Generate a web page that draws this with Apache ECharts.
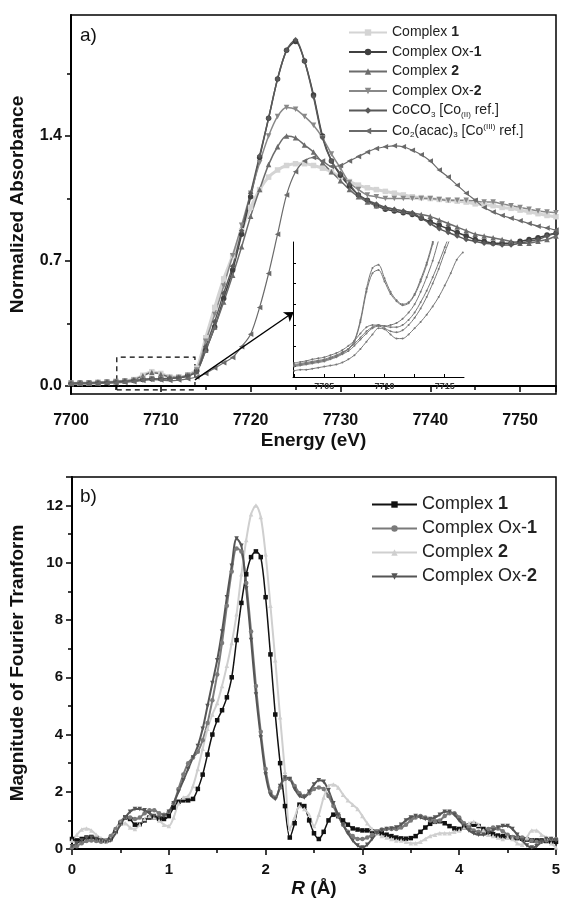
<!DOCTYPE html>
<html>
<head>
<meta charset="utf-8">
<script src="https://cdn.jsdelivr.net/npm/echarts@6/dist/echarts.min.js"></script>
<style>
  html, body { margin: 0; padding: 0; background: #fff; }
  #chart { width: 564px; height: 908px; }
</style>
</head>
<body>
<div id="chart"></div>
<script>
// ---- panel a) XANES ----
const energy = [7700,7701,7702,7703,7704,7705,7706,7707,7708,7709,7710,7711,7712,7713,7714,
  7715,7716,7717,7718,7719,7720,7721,7722,7723,7724,7725,7726,7727,7728,7729,7730,7731,7732,7733,7734,
  7735,7736,7737,7738,7739,7740,7741,7742,7743,7744,7745,7746,7747,7748,7749,7750,7751,7752,7753,7754]

const complex1Xanes = [0.015,0.016,0.017,0.019,0.021,0.024,0.028,0.036,0.06,0.08,0.07,0.052,0.05,0.06,0.1,
  0.27,0.44,0.6,0.73,0.87,1.0,1.1,1.17,1.21,1.235,1.245,1.245,1.235,1.22,1.2,1.17,1.145,1.125,1.11,1.1,
  1.09,1.08,1.07,1.06,1.055,1.05,1.045,1.04,1.035,1.03,1.02,1.015,1.01,1.0,0.995,0.985,0.975,0.965,0.955,0.948]
const oxComplex1Xanes = [0.015,0.016,0.017,0.019,0.021,0.024,0.027,0.031,0.036,0.04,0.04,0.042,0.047,0.058,0.085,
  0.2,0.33,0.49,0.65,0.85,1.06,1.28,1.5,1.72,1.88,1.93,1.82,1.63,1.4,1.26,1.18,1.12,1.07,1.04,1.01,
  0.99,0.98,0.97,0.96,0.94,0.92,0.9,0.88,0.86,0.84,0.82,0.81,0.8,0.8,0.8,0.81,0.82,0.83,0.845,0.855]
const complex2Xanes = [0.015,0.016,0.017,0.019,0.021,0.024,0.028,0.035,0.057,0.075,0.066,0.05,0.048,0.058,0.08,
  0.2,0.33,0.47,0.62,0.78,0.95,1.1,1.24,1.34,1.4,1.39,1.35,1.31,1.25,1.2,1.15,1.1,1.06,1.03,1.01,
  1.0,0.99,0.98,0.97,0.96,0.95,0.93,0.91,0.89,0.87,0.85,0.84,0.83,0.82,0.81,0.8,0.8,0.81,0.82,0.84]
const oxComplex2Xanes = [0.016,0.017,0.018,0.02,0.022,0.025,0.028,0.032,0.037,0.041,0.041,0.043,0.048,0.06,0.09,
  0.25,0.4,0.56,0.73,0.9,1.08,1.25,1.4,1.51,1.56,1.55,1.51,1.46,1.39,1.3,1.22,1.14,1.1,1.07,1.06,
  1.05,1.05,1.05,1.05,1.05,1.05,1.045,1.04,1.04,1.04,1.035,1.03,1.03,1.02,1.01,1.0,0.99,0.98,0.975,0.97]
const coco3Xanes = [0.014,0.015,0.016,0.018,0.02,0.023,0.026,0.03,0.035,0.039,0.04,0.042,0.046,0.056,0.08,
  0.22,0.36,0.52,0.67,0.87,1.08,1.29,1.5,1.72,1.88,1.94,1.82,1.62,1.39,1.26,1.19,1.13,1.07,1.04,1.02,
  1.0,0.99,0.98,0.97,0.94,0.91,0.88,0.86,0.84,0.82,0.81,0.8,0.795,0.79,0.79,0.8,0.81,0.82,0.84,0.855]
const acacXanes = [0.01,0.011,0.012,0.013,0.015,0.017,0.02,0.024,0.03,0.036,0.033,0.03,0.033,0.04,0.05,
  0.07,0.1,0.13,0.16,0.22,0.29,0.44,0.63,0.85,1.07,1.2,1.26,1.28,1.26,1.23,1.235,1.26,1.285,1.31,1.33,
  1.34,1.345,1.34,1.32,1.295,1.26,1.21,1.17,1.125,1.08,1.04,1.0,0.975,0.955,0.94,0.925,0.91,0.895,0.885,0.873]

// inset: pre-edge zoom
const insetEnergy = [7702.5,7703,7703.5,7704,7704.5,7705,7705.5,7706,7706.5,7707,7707.5,7708,7708.5,7709,7709.5,
  7710,7710.5,7711,7711.5,7712,7712.5,7713,7713.5,7714,7714.5,7715,7715.5,7716,7716.5]
const insetComplex1 = [0.011,0.012,0.013,0.014,0.015,0.016,0.018,0.02,0.023,0.027,0.035,0.055,0.085,0.105,0.108,
  0.095,0.082,0.074,0.07,0.072,0.08,0.094,0.11,0.13,0.15,0.17,0.19,0.21,0.23]
const insetComplex2 = [0.011,0.012,0.013,0.014,0.015,0.016,0.018,0.02,0.023,0.027,0.034,0.053,0.082,0.1,0.103,
  0.092,0.08,0.073,0.069,0.071,0.079,0.092,0.108,0.128,0.15,0.17,0.19,0.21,0.23]
const insetOx1 = [0.0135,0.0145,0.0155,0.017,0.018,0.019,0.021,0.023,0.026,0.03,0.035,0.042,0.048,0.05,0.05,
  0.049,0.05,0.052,0.056,0.062,0.07,0.082,0.096,0.112,0.132,0.15,0.17,0.19,0.21]
const insetOx2 = [0.012,0.013,0.014,0.015,0.016,0.017,0.019,0.021,0.024,0.027,0.032,0.038,0.044,0.048,0.05,
  0.049,0.048,0.048,0.05,0.055,0.062,0.072,0.083,0.096,0.11,0.125,0.14,0.16,0.18]
const insetCoco3 = [0.01,0.011,0.012,0.013,0.014,0.015,0.017,0.019,0.022,0.025,0.03,0.036,0.042,0.047,0.049,
  0.047,0.044,0.043,0.045,0.05,0.057,0.066,0.077,0.09,0.104,0.12,0.135,0.15,0.17]
const insetAcac = [0.006,0.007,0.007,0.008,0.009,0.01,0.011,0.012,0.014,0.017,0.021,0.027,0.034,0.041,0.047,
  0.046,0.041,0.037,0.037,0.041,0.047,0.053,0.06,0.068,0.077,0.088,0.1,0.113,0.12]

const xanesYLabels = [0, 0.7, 1.4]
const xanesYMinor = [0.35, 1.05, 1.75]
const insetXLabels = [7705, 7710, 7715]
const insetXTicks = [7702.5, 7705, 7707.5, 7710, 7712.5, 7715]
const insetYTicks = [0.01, 0.03, 0.05, 0.07, 0.09, 0.11]
const zoomBox = [[7705.1, -0.022], [7713.8, 0.161]]
const zoomArrow = [[7713.8, 0.034], [7724.8, 0.414]]

// ---- panel b) Fourier transform ----
const rDist = [0,0.05,0.1,0.15,0.2,0.25,0.3,0.35,0.4,0.45,0.5,0.55,0.6,0.65,0.7,0.75,0.8,0.85,0.9,0.95,
  1,1.05,1.1,1.15,1.2,1.25,1.3,1.35,1.4,1.45,1.5,1.55,1.6,1.65,1.7,1.75,1.8,1.85,1.9,1.95,
  2,2.05,2.1,2.15,2.2,2.25,2.3,2.35,2.4,2.45,2.5,2.55,2.6,2.65,2.7,2.75,2.8,2.85,2.9,2.95,
  3,3.05,3.1,3.15,3.2,3.25,3.3,3.35,3.4,3.45,3.5,3.55,3.6,3.65,3.7,3.75,3.8,3.85,3.9,3.95,
  4,4.05,4.1,4.15,4.2,4.25,4.3,4.35,4.4,4.45,4.5,4.55,4.6,4.65,4.7,4.75,4.8,4.85,4.9,4.95,5]
const complex1Ft = [0.35,0.3,0.35,0.4,0.42,0.38,0.3,0.28,0.35,0.6,0.9,1.1,1.05,0.85,0.85,1.0,1.1,1.1,1.05,1.05,
  1.15,1.45,1.65,1.7,1.7,1.75,2.1,2.6,3.3,4.0,4.5,4.85,5.3,6.0,7.3,8.6,9.6,10.2,10.4,10.2,
  8.8,6.8,4.7,3.0,1.5,0.4,0.9,1.55,1.5,1.0,0.55,0.35,0.6,1.0,1.2,1.15,1.0,0.85,0.72,0.68,
  0.65,0.65,0.62,0.6,0.55,0.5,0.45,0.4,0.37,0.36,0.38,0.45,0.6,0.75,0.88,0.95,0.97,0.9,0.8,0.72,
  0.7,0.75,0.82,0.85,0.8,0.7,0.6,0.52,0.47,0.45,0.42,0.4,0.38,0.36,0.33,0.3,0.3,0.3,0.28,0.26,0.25]
const oxComplex1Ft = [0.05,0.1,0.2,0.28,0.3,0.28,0.25,0.3,0.45,0.7,0.95,1.1,1.1,1.05,1.1,1.25,1.35,1.35,1.25,1.2,
  1.3,1.6,2.1,2.6,3.0,3.2,3.4,3.8,4.4,5.2,6.1,7.2,8.5,9.7,10.5,10.4,9.3,7.6,5.7,4.1,
  2.8,2.0,1.8,2.15,2.45,2.45,2.2,1.95,1.85,1.95,2.1,2.15,2.1,1.85,1.5,1.15,0.85,0.6,0.45,0.35,
  0.35,0.4,0.5,0.6,0.68,0.7,0.7,0.7,0.75,0.85,1.0,1.1,1.15,1.1,1.0,0.95,1.0,1.15,1.25,1.25,
  1.1,0.9,0.75,0.65,0.6,0.62,0.7,0.75,0.72,0.62,0.5,0.42,0.4,0.4,0.35,0.3,0.25,0.25,0.3,0.35,0.35]
const complex2Ft = [0.3,0.5,0.68,0.72,0.65,0.5,0.38,0.3,0.35,0.6,0.9,0.9,0.75,0.7,0.85,1.05,1.15,1.1,1.0,0.85,
  0.8,1.1,1.6,1.8,1.85,2.2,2.8,3.5,4.2,4.7,5.1,5.7,6.4,7.2,8.2,9.6,10.8,11.7,12.0,11.6,
  10.3,8.5,6.6,4.6,2.7,0.7,1.1,1.5,1.4,1.2,0.8,1.2,1.8,2.2,2.25,2.15,1.9,1.7,1.55,1.4,
  1.15,0.9,0.7,0.55,0.45,0.4,0.35,0.3,0.3,0.25,0.2,0.2,0.25,0.35,0.45,0.5,0.55,0.55,0.55,0.6,
  0.65,0.75,0.9,0.95,0.85,0.65,0.5,0.45,0.4,0.35,0.4,0.35,0.2,0.15,0.4,0.65,0.65,0.5,0.4,0.2,0.05]
const oxComplex2Ft = [0.1,0.2,0.3,0.38,0.4,0.35,0.3,0.25,0.3,0.55,0.85,1.1,1.3,1.4,1.4,1.35,1.25,1.15,1.1,1.15,
  1.3,1.6,2.0,2.4,2.8,3.2,3.6,4.2,5.0,5.8,6.6,7.6,8.8,9.9,10.85,10.6,9.1,7.3,5.4,3.9,
  2.6,1.9,1.75,2.2,2.5,2.45,2.1,1.85,1.8,2.0,2.25,2.4,2.35,2.05,1.6,1.2,0.85,0.55,0.3,0.12,
  0.05,0.15,0.35,0.55,0.65,0.7,0.72,0.75,0.85,1.0,1.1,1.15,1.1,1.05,1.05,1.1,1.2,1.3,1.3,1.2,
  1.0,0.8,0.65,0.55,0.5,0.5,0.55,0.65,0.75,0.8,0.8,0.7,0.5,0.3,0.12,0.05,0.1,0.25,0.35,0.35,0.3]

const FONT = '"Liberation Sans", Arial, Helvetica, sans-serif'
const INK = '#111'

const pairs = (xs, ys) => xs.map((x, i) => [x, ys[i]])

const TOP_SERIES = [
  { id: 'a1', label: 'Complex {b|1}', data: complex1Xanes, inset: insetComplex1, color: '#d4d4d4', symbol: 'rect', rot: 0, w: 3 },
  { id: 'a2', label: 'Complex Ox-{b|1}', data: oxComplex1Xanes, inset: insetOx1, color: '#404040', symbol: 'circle', rot: 0, w: 1.5 },
  { id: 'a3', label: 'Complex {b|2}', data: complex2Xanes, inset: insetComplex2, color: '#6c6c6c', symbol: 'triangle', rot: 0, w: 1.5 },
  { id: 'a4', label: 'Complex Ox-{b|2}', data: oxComplex2Xanes, inset: insetOx2, color: '#888888', symbol: 'triangle', rot: 180, w: 1.5 },
  { id: 'a5', label: 'CoCO{sub|3} [Co{sub|(II)} ref.]', data: coco3Xanes, inset: insetCoco3, color: '#595959', symbol: 'diamond', rot: 0, w: 1.5 },
  { id: 'a6', label: 'Co{sub|2}(acac){sub|3} [Co{sup|(III)} ref.]', data: acacXanes, inset: insetAcac, color: '#6a6a6a', symbol: 'triangle', rot: 90, w: 1.2 }
]
const BOTTOM_SERIES = [
  { id: 'b1', label: 'Complex {b|1}', data: complex1Ft, color: '#111111', symbol: 'rect', rot: 0, w: 1.5 },
  { id: 'b2', label: 'Complex Ox-{b|1}', data: oxComplex1Ft, color: '#7a7a7a', symbol: 'circle', rot: 0, w: 2 },
  { id: 'b3', label: 'Complex {b|2}', data: complex2Ft, color: '#cfcfcf', symbol: 'triangle', rot: 0, w: 2 },
  { id: 'b4', label: 'Complex Ox-{b|2}', data: oxComplex2Ft, color: '#555555', symbol: 'triangle', rot: 180, w: 2 }
]
const LABELS = {}
TOP_SERIES.concat(BOTTOM_SERIES).forEach(s => { LABELS[s.id] = s.label })

function richFor(size) {
  const base = { fontFamily: FONT, fontSize: size, color: '#222' }
  return {
    b: { ...base, fontWeight: 'bold' },
    sub: { ...base, fontSize: Math.round(size * 0.6), padding: [Math.round(size * 0.55), 0, 0, 0] },
    sup: { ...base, fontSize: Math.round(size * 0.6), padding: [0, 0, Math.round(size * 0.55), 0] }
  }
}

const tickStyle = { color: '#000', width: 1.5 }
const axisLineStyle = { lineStyle: { color: '#000', width: 2 } }
const labelStyle = { fontFamily: FONT, fontWeight: 'bold', color: INK }
const nameStyle = { fontFamily: FONT, fontWeight: 'bold', fontSize: 19, color: INK }
const plain = v => String(v)

const series = []
TOP_SERIES.forEach(s => {
  series.push({
    type: 'line', name: s.id, xAxisIndex: 0, yAxisIndex: 0,
    data: pairs(energy, s.data), smooth: 0.3,
    symbol: s.symbol, symbolRotate: s.rot, symbolSize: 5.5,
    lineStyle: { color: s.color, width: s.w }, itemStyle: { color: s.color },
    z: 3
  })
  series.push({
    type: 'line', name: s.id + '-inset', xAxisIndex: 2, yAxisIndex: 3,
    data: pairs(insetEnergy, s.inset), smooth: 0.3,
    symbol: 'circle', symbolSize: 2,
    lineStyle: { color: '#777', width: 1 }, itemStyle: { color: '#777' },
    z: 3
  })
})
// dashed zoom box and arrow, placed with the panel's own data scales
series.push({
  type: 'line', xAxisIndex: 0, yAxisIndex: 0, data: [], z: 6, silent: true,
  markArea: {
    silent: true,
    itemStyle: { color: 'rgba(0,0,0,0)', borderColor: '#000', borderWidth: 1.2, borderType: [5, 4] },
    data: [[{ coord: zoomBox[0] }, { coord: zoomBox[1] }]]
  },
  markLine: {
    silent: true, symbol: ['none', 'arrow'], symbolSize: 9, label: { show: false },
    lineStyle: { color: '#000', width: 1.3, type: 'solid' },
    data: [[{ coord: zoomArrow[0] }, { coord: zoomArrow[1] }]]
  }
})
BOTTOM_SERIES.forEach(s => {
  series.push({
    type: 'line', name: s.id, xAxisIndex: 1, yAxisIndex: 2,
    data: pairs(rDist, s.data), smooth: 0.3,
    symbol: s.symbol, symbolRotate: s.rot, symbolSize: 4.5,
    lineStyle: { color: s.color, width: s.w }, itemStyle: { color: s.color },
    z: 3
  })
})

const option = {
  animation: false,
  backgroundColor: '#fff',
  title: [
    { text: 'a)', left: 75, top: 21, textStyle: { fontFamily: FONT, fontWeight: 'normal', fontSize: 19, color: INK } },
    { text: 'b)', left: 75, top: 482, textStyle: { fontFamily: FONT, fontWeight: 'normal', fontSize: 19, color: INK } }
  ],
  grid: [
    { left: 70, top: 15, width: 486, height: 379, show: true, borderColor: '#000', borderWidth: 1.5, backgroundColor: 'transparent' },
    { left: 70, top: 477, width: 486, height: 372, show: true, borderColor: '#000', borderWidth: 1.5, backgroundColor: 'transparent' },
    { left: 293, top: 242, width: 171, height: 135 }
  ],
  legend: [
    {
      data: TOP_SERIES.map(s => s.id), orient: 'vertical', left: 343, top: 20,
      itemWidth: 38, itemHeight: 8, itemGap: 4.5,
      formatter: n => LABELS[n],
      textStyle: { fontFamily: FONT, fontSize: 14, color: '#222', lineHeight: 15, rich: richFor(14) }
    },
    {
      data: BOTTOM_SERIES.map(s => s.id), orient: 'vertical', left: 366, top: 490,
      itemWidth: 45, itemHeight: 8, itemGap: 5,
      formatter: n => LABELS[n],
      textStyle: { fontFamily: FONT, fontSize: 18, color: '#222', lineHeight: 19, rich: richFor(18) }
    }
  ],
  xAxis: [
    {
      gridIndex: 0, type: 'value', min: 7700, max: 7754, interval: 10,
      axisLine: axisLineStyle,
      axisTick: { length: 6, lineStyle: tickStyle },
      minorTick: { show: true, splitNumber: 2, length: 4, lineStyle: tickStyle },
      splitLine: { show: false },
      axisLabel: { ...labelStyle, fontSize: 16, margin: 19, showMaxLabel: false, formatter: plain },
      name: 'Energy (eV)', nameLocation: 'middle', nameGap: 37, nameTextStyle: nameStyle
    },
    {
      gridIndex: 1, type: 'value', min: 0, max: 5, interval: 1,
      axisLine: axisLineStyle,
      axisTick: { length: 6, lineStyle: tickStyle },
      minorTick: { show: true, splitNumber: 2, length: 4, lineStyle: tickStyle },
      splitLine: { show: false },
      axisLabel: { ...labelStyle, fontSize: 15, margin: 13 },
      name: '{i|R} (Å)', nameLocation: 'middle', nameGap: 30,
      nameTextStyle: { ...nameStyle, rich: { i: { ...nameStyle, fontStyle: 'italic' } } }
    },
    {
      gridIndex: 2, type: 'value', min: 7702.4, max: 7716.6,
      axisLine: { lineStyle: { color: '#000', width: 1 } },
      axisTick: { inside: true, length: 3, customValues: insetXTicks, lineStyle: { color: '#000', width: 1 } },
      splitLine: { show: false },
      axisLabel: { fontFamily: FONT, fontSize: 9, fontWeight: 'bold', color: '#333', margin: 5, customValues: insetXLabels, formatter: plain }
    }
  ],
  yAxis: [
    {
      gridIndex: 0, type: 'value', min: -0.045, max: 2.078,
      axisLine: axisLineStyle,
      axisTick: { length: 6, lineStyle: tickStyle, customValues: xanesYLabels },
      splitLine: { show: false },
      axisLabel: { ...labelStyle, fontSize: 16, margin: 9, customValues: xanesYLabels, formatter: v => v.toFixed(1) },
      name: 'Normalized Absorbance', nameLocation: 'middle', nameGap: 44, nameTextStyle: nameStyle
    },
    {
      gridIndex: 0, type: 'value', position: 'left', offset: 0, min: -0.045, max: 2.078,
      axisLine: { show: false },
      axisTick: { length: 4, lineStyle: tickStyle, customValues: xanesYMinor },
      splitLine: { show: false },
      axisLabel: { show: false }
    },
    {
      gridIndex: 1, type: 'value', min: 0, max: 13, interval: 2,
      axisLine: axisLineStyle,
      axisTick: { length: 6, lineStyle: tickStyle },
      minorTick: { show: true, splitNumber: 2, length: 4, lineStyle: tickStyle },
      splitLine: { show: false },
      axisLabel: { ...labelStyle, fontSize: 15, margin: 9, showMaxLabel: false },
      name: 'Magnitude of Fourier Tranform', nameLocation: 'middle', nameGap: 45,
      nameTextStyle: { ...nameStyle, fontSize: 19 }
    },
    {
      gridIndex: 2, type: 'value', min: 0, max: 0.13,
      axisLine: { lineStyle: { color: '#000', width: 1 } },
      axisTick: { inside: true, length: 3, customValues: insetYTicks, lineStyle: { color: '#000', width: 1 } },
      splitLine: { show: false },
      axisLabel: { show: false }
    }
  ],
  series
}

const chart = echarts.init(document.getElementById('chart'), null, { renderer: 'canvas' })
chart.setOption(option)
</script>
</body>
</html>
